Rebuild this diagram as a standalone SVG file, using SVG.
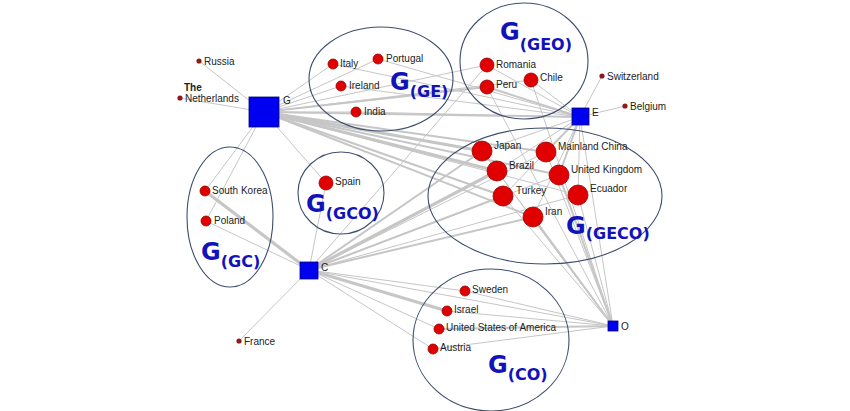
<svg xmlns="http://www.w3.org/2000/svg" width="850" height="411" viewBox="0 0 850 411">
<style>
.e{stroke:#c6c6c6;stroke-linecap:round;fill:none}
.w1{stroke-width:1}
.w2{stroke-width:2}
.w3{stroke-width:3.2}
.grp{fill:none;stroke:#3e4d6e;stroke-width:1.1}
.big{fill:#e00000;stroke:#9a0000;stroke-width:0.8}
.dot{fill:#8e1b1b}
.sq{fill:#0000f0;stroke:#00007a;stroke-width:0.8}
.lb{font-family:"Liberation Sans",Arial,sans-serif;font-size:10px;fill:#222}
.G{font-family:"DejaVu Sans","Liberation Sans",sans-serif;font-weight:bold;fill:#1212bb}
.g1{font-size:24px}
.g2{font-size:16px}
</style>
<rect width="850" height="411" fill="#fff"/>
<g id="connectors">
<line class="e w1" x1="264" y1="112" x2="199" y2="61"/>
<line class="e w1" x1="264" y1="112" x2="180" y2="98"/>
<line class="e w1" x1="264" y1="112" x2="333" y2="64"/>
<line class="e w1" x1="264" y1="112" x2="378" y2="59"/>
<line class="e w1" x1="264" y1="112" x2="341" y2="86"/>
<line class="e w1" x1="264" y1="112" x2="356" y2="112"/>
<line class="e w1" x1="264" y1="112" x2="487" y2="65"/>
<line class="e w2" x1="264" y1="112" x2="487" y2="87"/>
<line class="e w1" x1="264" y1="112" x2="531" y2="80"/>
<line class="e w2" x1="264" y1="112" x2="580" y2="117"/>
<line class="e w3" x1="264" y1="112" x2="482" y2="151"/>
<line class="e w3" x1="264" y1="112" x2="497" y2="171"/>
<line class="e w2" x1="264" y1="112" x2="503" y2="196"/>
<line class="e w2" x1="264" y1="112" x2="546" y2="152"/>
<line class="e w2" x1="264" y1="112" x2="559" y2="175"/>
<line class="e w1" x1="264" y1="112" x2="578" y2="195"/>
<line class="e w2" x1="264" y1="112" x2="533" y2="217"/>
<line class="e w1" x1="264" y1="112" x2="205" y2="191"/>
<line class="e w1" x1="264" y1="112" x2="206" y2="221"/>
<line class="e w1" x1="264" y1="112" x2="326" y2="183"/>
<line class="e w1" x1="580" y1="117" x2="602" y2="76"/>
<line class="e w1" x1="580" y1="117" x2="625" y2="106"/>
<line class="e w1" x1="580" y1="117" x2="487" y2="65"/>
<line class="e w2" x1="580" y1="117" x2="487" y2="87"/>
<line class="e w1" x1="580" y1="117" x2="531" y2="80"/>
<line class="e w1" x1="580" y1="117" x2="333" y2="64"/>
<line class="e w1" x1="580" y1="117" x2="378" y2="59"/>
<line class="e w1" x1="580" y1="117" x2="341" y2="86"/>
<line class="e w1" x1="580" y1="117" x2="356" y2="112"/>
<line class="e w1" x1="580" y1="117" x2="482" y2="151"/>
<line class="e w2" x1="580" y1="117" x2="546" y2="152"/>
<line class="e w1" x1="580" y1="117" x2="497" y2="171"/>
<line class="e w2" x1="580" y1="117" x2="559" y2="175"/>
<line class="e w1" x1="580" y1="117" x2="503" y2="196"/>
<line class="e w1" x1="580" y1="117" x2="578" y2="195"/>
<line class="e w1" x1="580" y1="117" x2="533" y2="217"/>
<line class="e w1" x1="580" y1="117" x2="613" y2="326"/>
<line class="e w3" x1="309" y1="270" x2="205" y2="191"/>
<line class="e w1" x1="309" y1="270" x2="206" y2="221"/>
<line class="e w1" x1="309" y1="270" x2="326" y2="183"/>
<line class="e w1" x1="309" y1="270" x2="239" y2="341"/>
<line class="e w1" x1="309" y1="270" x2="487" y2="65"/>
<line class="e w2" x1="309" y1="270" x2="482" y2="151"/>
<line class="e w3" x1="309" y1="270" x2="497" y2="171"/>
<line class="e w2" x1="309" y1="270" x2="503" y2="196"/>
<line class="e w2" x1="309" y1="270" x2="533" y2="217"/>
<line class="e w1" x1="309" y1="270" x2="546" y2="152"/>
<line class="e w1" x1="309" y1="270" x2="559" y2="175"/>
<line class="e w1" x1="309" y1="270" x2="578" y2="195"/>
<line class="e w1" x1="309" y1="270" x2="465" y2="291"/>
<line class="e w3" x1="309" y1="270" x2="447" y2="311"/>
<line class="e w1" x1="309" y1="270" x2="439" y2="329"/>
<line class="e w1" x1="309" y1="270" x2="433" y2="349"/>
<line class="e w1" x1="309" y1="270" x2="613" y2="326"/>
<line class="e w1" x1="613" y1="326" x2="465" y2="291"/>
<line class="e w1" x1="613" y1="326" x2="447" y2="311"/>
<line class="e w2" x1="613" y1="326" x2="439" y2="329"/>
<line class="e w1" x1="613" y1="326" x2="433" y2="349"/>
<line class="e w1" x1="613" y1="326" x2="482" y2="151"/>
<line class="e w1" x1="613" y1="326" x2="497" y2="171"/>
<line class="e w1" x1="613" y1="326" x2="503" y2="196"/>
<line class="e w2" x1="613" y1="326" x2="533" y2="217"/>
<line class="e w1" x1="613" y1="326" x2="546" y2="152"/>
<line class="e w2" x1="613" y1="326" x2="559" y2="175"/>
<line class="e w1" x1="613" y1="326" x2="578" y2="195"/>
<line class="e w1" x1="613" y1="326" x2="531" y2="80"/>
<line class="e w1" x1="613" y1="326" x2="487" y2="87"/>
</g>
<g id="group-GE">
<ellipse class="grp" cx="381" cy="79" rx="72" ry="52"/>
<text class="G" x="390" y="90"><tspan class="g1">G</tspan><tspan class="g2" dy="7">(GE)</tspan></text>
</g>
<g id="group-GEO">
<ellipse class="grp" cx="524" cy="61" rx="64" ry="58"/>
<text class="G" x="500" y="40"><tspan class="g1">G</tspan><tspan class="g2" dy="10">(GEO)</tspan></text>
</g>
<g id="group-GECO">
<ellipse class="grp" cx="545" cy="196" rx="117" ry="68"/>
<text class="G" x="566" y="234"><tspan class="g1">G</tspan><tspan class="g2" dy="5">(GECO)</tspan></text>
</g>
<g id="group-GC">
<ellipse class="grp" cx="230" cy="217" rx="43" ry="70"/>
<text class="G" x="201" y="260"><tspan class="g1">G</tspan><tspan class="g2" dy="7">(GC)</tspan></text>
</g>
<g id="group-GCO">
<ellipse class="grp" cx="341" cy="193" rx="43" ry="41"/>
<text class="G" x="306" y="212"><tspan class="g1">G</tspan><tspan class="g2" dy="7">(GCO)</tspan></text>
</g>
<g id="group-CO">
<ellipse class="grp" cx="491" cy="340" rx="78" ry="71"/>
<text class="G" x="488" y="373"><tspan class="g1">G</tspan><tspan class="g2" dy="7">(CO)</tspan></text>
</g>
<g id="node-G"><rect class="sq" x="249" y="97" width="30" height="30"/><text class="lb" x="283" y="104">G</text></g>
<g id="node-E"><rect class="sq" x="572" y="108" width="17" height="17"/><text class="lb" x="592" y="116">E</text></g>
<g id="node-C"><rect class="sq" x="300" y="262" width="18" height="17"/><text class="lb" x="321" y="271">C</text></g>
<g id="node-O"><rect class="sq" x="608" y="321" width="10" height="10"/><text class="lb" x="621" y="330">O</text></g>
<g id="node-Russia"><circle class="dot" cx="199" cy="61" r="2.6"/><text class="lb" x="204" y="65">Russia</text></g>
<g id="node-Netherlands"><circle class="dot" cx="180" cy="98" r="2.6"/><text class="lb" x="184" y="91" font-weight="bold">The</text><text class="lb" x="185" y="102">Netherlands</text></g>
<g id="node-Switzerland"><circle class="dot" cx="602" cy="76" r="2.6"/><text class="lb" x="607" y="80">Switzerland</text></g>
<g id="node-Belgium"><circle class="dot" cx="625" cy="106" r="2.6"/><text class="lb" x="630" y="110">Belgium</text></g>
<g id="node-France"><circle class="dot" cx="239" cy="341" r="2.6"/><text class="lb" x="244" y="345">France</text></g>
<g id="node-Italy"><circle class="big" cx="333" cy="64" r="5"/><text class="lb" x="340" y="67">Italy</text></g>
<g id="node-Portugal"><circle class="big" cx="378" cy="59" r="5"/><text class="lb" x="386" y="62">Portugal</text></g>
<g id="node-Ireland"><circle class="big" cx="341" cy="86" r="5"/><text class="lb" x="349" y="89">Ireland</text></g>
<g id="node-India"><circle class="big" cx="356" cy="112" r="5"/><text class="lb" x="364" y="115">India</text></g>
<g id="node-Romania"><circle class="big" cx="487" cy="65" r="7"/><text class="lb" x="496" y="68">Romania</text></g>
<g id="node-Peru"><circle class="big" cx="487" cy="87" r="7"/><text class="lb" x="496" y="88">Peru</text></g>
<g id="node-Chile"><circle class="big" cx="531" cy="80" r="7"/><text class="lb" x="540" y="81">Chile</text></g>
<g id="node-Japan"><circle class="big" cx="482" cy="151" r="10"/><text class="lb" x="494" y="149">Japan</text></g>
<g id="node-MainlandChina"><circle class="big" cx="546" cy="152" r="10"/><text class="lb" x="558" y="150">Mainland China</text></g>
<g id="node-Brazil"><circle class="big" cx="497" cy="171" r="10"/><text class="lb" x="509" y="169">Brazil</text></g>
<g id="node-UK"><circle class="big" cx="559" cy="175" r="10"/><text class="lb" x="571" y="173">United Kingdom</text></g>
<g id="node-Turkey"><circle class="big" cx="503" cy="196" r="10"/><text class="lb" x="516" y="194">Turkey</text></g>
<g id="node-Ecuador"><circle class="big" cx="578" cy="195" r="10"/><text class="lb" x="590" y="192">Ecuador</text></g>
<g id="node-Iran"><circle class="big" cx="533" cy="217" r="10"/><text class="lb" x="545" y="215">Iran</text></g>
<g id="node-SouthKorea"><circle class="big" cx="205" cy="191" r="5"/><text class="lb" x="212" y="194">South Korea</text></g>
<g id="node-Poland"><circle class="big" cx="206" cy="221" r="5"/><text class="lb" x="214" y="224">Poland</text></g>
<g id="node-Spain"><circle class="big" cx="326" cy="183" r="7"/><text class="lb" x="335" y="185">Spain</text></g>
<g id="node-Sweden"><circle class="big" cx="465" cy="291" r="5"/><text class="lb" x="472" y="293">Sweden</text></g>
<g id="node-Israel"><circle class="big" cx="447" cy="311" r="5"/><text class="lb" x="454" y="313">Israel</text></g>
<g id="node-USA"><circle class="big" cx="439" cy="329" r="5"/><text class="lb" x="446" y="331">United States of America</text></g>
<g id="node-Austria"><circle class="big" cx="433" cy="349" r="5"/><text class="lb" x="440" y="351">Austria</text></g>
</svg>
